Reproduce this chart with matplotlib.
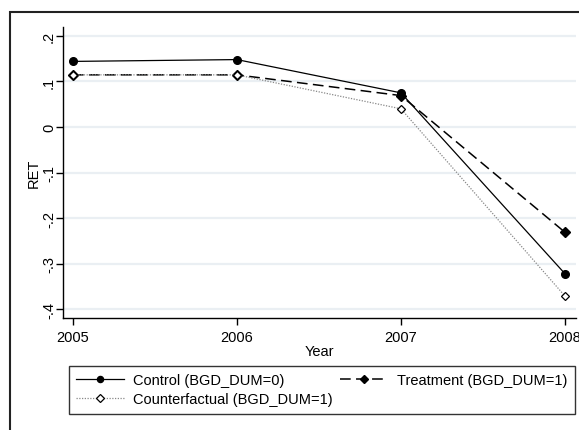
import matplotlib
matplotlib.use("Agg")
import matplotlib.pyplot as plt
from matplotlib.patches import Rectangle

years = [2005, 2006, 2007, 2008]
control = [0.144, 0.148, 0.075, -0.322]
treatment = [0.1145, 0.1145, 0.069, -0.231]
counterfactual = [0.1145, 0.1145, 0.040, -0.371]
yticks = [0.2, 0.1, 0.0, -0.1, -0.2, -0.3, -0.4]
ytick_labels = [".2", ".1", "0", "-.1", "-.2", "-.3", "-.4"]
labels = ["Control (BGD_DUM=0)", "Treatment (BGD_DUM=1)", "Counterfactual (BGD_DUM=1)"]

plt.rcParams['font.family'] = ['Liberation Sans', 'DejaVu Sans']
W, H = 579, 431
fig = plt.figure(figsize=(W/100, H/100), dpi=100)
fig.patch.set_facecolor('white')

# outer frame
fig.patches.append(Rectangle((9.5/W, -0.1), 1.2, 1 - 13/H + 0.1, transform=fig.transFigure,
                             fill=False, edgecolor='#222222', linewidth=1.5, clip_on=False))

ax = fig.add_axes([63/W, 1 - 319/H, (576-63)/W, (319-28)/H])
ax.set_xlim(2004.94, 2008.067)
ax.set_ylim(-0.419, 0.2195)

for s in ['top', 'right']:
    ax.spines[s].set_visible(False)
for s in ['left', 'bottom']:
    ax.spines[s].set_linewidth(1.0)
    ax.spines[s].set_color('black')

for v in yticks:
    ax.axhline(v, color='#eaeff3', linewidth=1.6, zorder=0)

l1, = ax.plot(years, control, color='black', linewidth=0.9, marker='o', markersize=5.5,
              markerfacecolor='black', markeredgecolor='black', zorder=3)
l2, = ax.plot(years, treatment, color='black', linewidth=1.1, linestyle=(0, (7, 3.5)), marker='D',
              markersize=5.5, markerfacecolor='black', markeredgecolor='black', zorder=3)
l3, = ax.plot(years, counterfactual, color='#888888', linewidth=0.9, linestyle=(0, (1, 1.2)), marker='D',
              markersize=4.5, markerfacecolor='white', markeredgecolor='black', markeredgewidth=0.9, zorder=4)

ax.set_xticks(years)
ax.set_xticklabels([str(y) for y in years], fontsize=10.5)
ax.set_yticks(yticks)
ax.set_yticklabels(ytick_labels, fontsize=10.5, rotation=90, va='center')
ax.tick_params(axis='both', direction='out', length=5, width=1.0, color='black')
ax.tick_params(axis='x', pad=4)
ax.tick_params(axis='y', pad=0)
ax.set_xlabel("Year", fontsize=10.5, labelpad=0)
ax.set_ylabel("RET", fontsize=10.5, labelpad=1)

leg = fig.legend([l1, l3, l2], [labels[0], labels[2], labels[1]], ncol=2,
                 loc='upper left', bbox_to_anchor=(69/W, 1 - 367/H),
                 fontsize=10.5, frameon=True, fancybox=False, edgecolor='black',
                 handlelength=3.3, handletextpad=0.6, columnspacing=0.5,
                 borderpad=0.5, labelspacing=0.35, borderaxespad=0, markerscale=0.8)
leg.get_frame().set_linewidth(1.0)

fig.savefig("out.png", dpi=100)
